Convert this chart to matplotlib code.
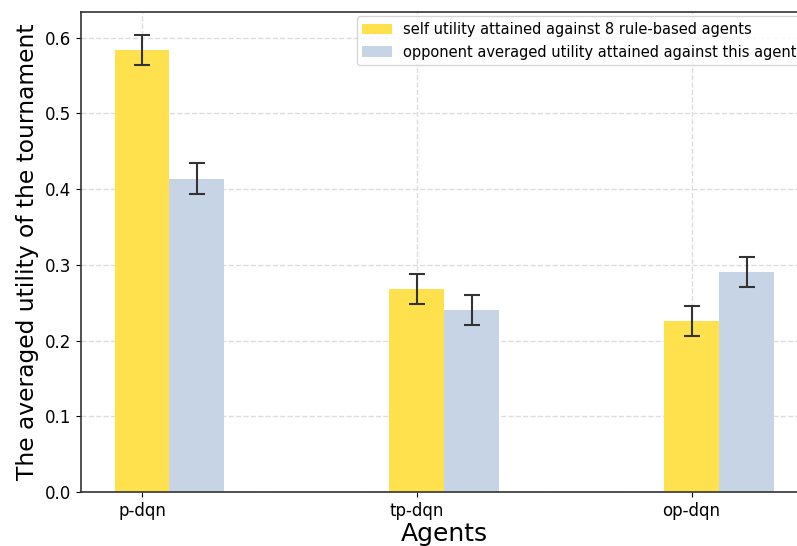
import matplotlib
matplotlib.use('Agg')

import matplotlib.pyplot as plt
import numpy as np

agents = ['p-dqn', 'tp-dqn', 'op-dqn']
self_utility = [0.584, 0.268, 0.226]
self_err = [0.02, 0.02, 0.02]
opp_utility = [0.414, 0.240, 0.291]
opp_err = [0.02, 0.02, 0.02]

DPI = 100
W, H = 797, 546
fig = plt.figure(figsize=(W / DPI, H / DPI), dpi=DPI)
ax = fig.add_axes([81 / W, 1 - 492 / H, (807 - 81) / W, (492 - 12) / H])

x = np.arange(len(agents))
width = 0.2
ekw = dict(ecolor='#333333', elinewidth=1.5, capsize=5.5, capthick=1.5)
ax.bar(x, self_utility, width, yerr=self_err, color='#ffe14d',
       label='self utility attained against 8 rule-based agents', error_kw=ekw, zorder=2)
ax.bar(x + width, opp_utility, width, yerr=opp_err, color='#c7d4e6',
       label='opponent averaged utility attained against this agent', error_kw=ekw, zorder=2)

ax.set_xticks(x)
ax.set_xticklabels(agents, fontsize=12)
ax.tick_params(axis='y', labelsize=12)
ax.set_xlim(-0.222, 2.42)
ax.set_ylim(0, 0.634)
ax.set_yticks([0.0, 0.1, 0.2, 0.3, 0.4, 0.5, 0.6])
ax.grid(True, linestyle='--', color='#dddddd', linewidth=1, zorder=0)
ax.set_axisbelow(True)
for s in ax.spines.values():
    s.set_color('#333333')
    s.set_linewidth(1.2)

ax.set_xlabel('Agents', fontsize=18, labelpad=2)
ax.set_ylabel('The averaged utility of the tournament', fontsize=16.8, labelpad=4)
ax.legend(loc='upper right', fontsize=10.5, frameon=True, borderaxespad=0.3)

plt.savefig('out.png', dpi=DPI)
